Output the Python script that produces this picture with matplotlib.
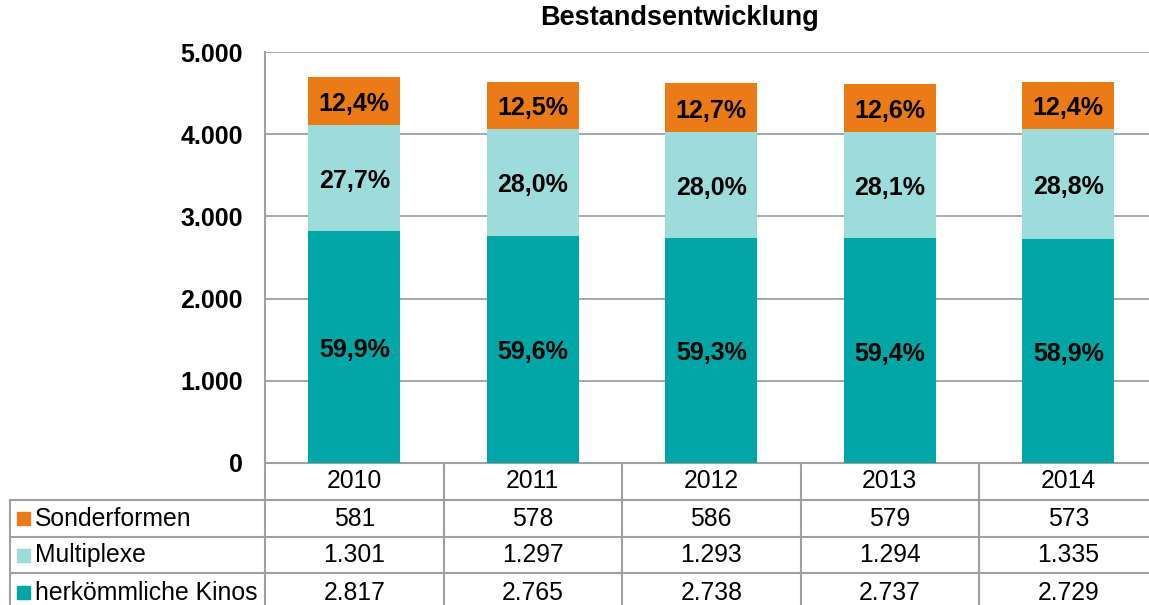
import matplotlib
matplotlib.use("Agg")
import matplotlib.pyplot as plt
from matplotlib.transforms import blended_transform_factory, ScaledTranslation
from matplotlib.patches import Rectangle

plt.rcParams['font.family'] = ['Liberation Sans', 'DejaVu Sans']

years = ["2010", "2011", "2012", "2013", "2014"]
herkoemmlich = [2817, 2765, 2738, 2737, 2729]
multiplexe = [1301, 1297, 1293, 1294, 1335]
sonderformen = [581, 578, 586, 579, 573]
series_names = ["Sonderformen", "Multiplexe", "herkömmliche Kinos"]
yticks = [0, 1000, 2000, 3000, 4000, 5000]
ytick_labels = ["0", "1.000", "2.000", "3.000", "4.000", "5.000"]

c_orange = "#EA7B17"
c_light = "#9CDCDB"
c_teal = "#00A6A5"
grid_c = "#A0A0A0"

W, H = 1149, 605
fig = plt.figure(figsize=(W / 100, H / 100), dpi=100)
ax_l, ax_r, ax_b, ax_t = 265, 1157.5, 463, 52
ax = fig.add_axes([ax_l / W, (H - ax_b) / H, (ax_r - ax_l) / W, (ax_b - ax_t) / H])

x = list(range(len(years)))
bw = 0.515
ax.bar(x, herkoemmlich, width=bw, color=c_teal, zorder=3)
bottom2 = herkoemmlich
ax.bar(x, multiplexe, width=bw, bottom=bottom2, color=c_light, zorder=3)
bottom3 = [a + b for a, b in zip(herkoemmlich, multiplexe)]
ax.bar(x, sonderformen, width=bw, bottom=bottom3, color=c_orange, zorder=3)

def fmt_pct(v):
    return f"{v:.1f}%".replace(".", ",")

shift = ax.transData + ScaledTranslation(0, -3 / 100, fig.dpi_scale_trans)
for i in x:
    tot = herkoemmlich[i] + multiplexe[i] + sonderformen[i]
    segs = [(0, herkoemmlich[i]), (herkoemmlich[i], multiplexe[i]), (bottom3[i], sonderformen[i])]
    for b, v in segs:
        ax.text(i, b + v / 2, fmt_pct(100 * v / tot), ha="center", va="center",
                fontsize=18, fontweight="bold", color="black", zorder=4, transform=shift)

ax.set_xlim(-0.5, len(years) - 0.5)
ax.set_ylim(0, 5000)
ax.set_yticks(yticks)
ax.set_yticklabels(ytick_labels, fontsize=18, fontweight="bold")
ax.tick_params(axis="y", length=0, pad=16)
ax.set_xticks([])
ax.grid(axis="y", color=grid_c, linewidth=1.3, zorder=0)
for s in ["top", "right"]:
    ax.spines[s].set_visible(False)
for s in ["left", "bottom"]:
    ax.spines[s].set_color(grid_c)
    ax.spines[s].set_linewidth(1.5)

fig.text(680 / W, 1 - 18 / H, "Bestandsentwicklung", ha="center", va="center",
         fontsize=19.5, fontweight="bold")

# Data table below the axes
px = 1.0 / (ax_b - ax_t)  # axes-y units per pixel
trans = blended_transform_factory(ax.transData, ax.transAxes)
row_edges = [463, 500, 537, 573, 612]
row_y = [-(r - ax_b) * px for r in row_edges]
table_left = -(ax_l - 10) / (ax_r - ax_l)

for ry in row_y[1:4]:
    ax.plot([table_left, 1], [ry, ry], transform=ax.transAxes, color=grid_c,
            linewidth=1.5, clip_on=False)
for b in [i - 0.5 for i in range(len(years) + 1)]:
    ax.plot([b, b], [row_y[0], row_y[-1]], transform=trans, color=grid_c,
            linewidth=1.5, clip_on=False)
ax.plot([table_left, table_left], [row_y[1], row_y[-1]], transform=ax.transAxes,
        color=grid_c, linewidth=1.5, clip_on=False)

def mid(k):
    return (row_y[k] + row_y[k + 1]) / 2

for i, yr in enumerate(years):
    ax.text(i, mid(0), yr, transform=trans, ha="center", va="center", fontsize=17.8)

rows = [sonderformen, multiplexe, herkoemmlich]
colors = [c_orange, c_light, c_teal]

def fmt_num(v):
    return f"{v:,}".replace(",", ".")

for k, (name, vals, col) in enumerate(zip(series_names, rows, colors)):
    ym = mid(k + 1)
    for i, v in enumerate(vals):
        ax.text(i, ym, fmt_num(v), transform=trans, ha="center", va="center", fontsize=17.8)
    sq_x = -(ax_l - 17) / (ax_r - ax_l)
    sq_w = 13 / (ax_r - ax_l)
    sq_h = 13 * px
    ax.add_patch(Rectangle((sq_x, ym - sq_h / 2), sq_w, sq_h, transform=ax.transAxes,
                           color=col, clip_on=False))
    ax.text(-(ax_l - 35) / (ax_r - ax_l), ym, name, transform=ax.transAxes,
            ha="left", va="center", fontsize=17.8)

fig.savefig("out.png", dpi=100)
